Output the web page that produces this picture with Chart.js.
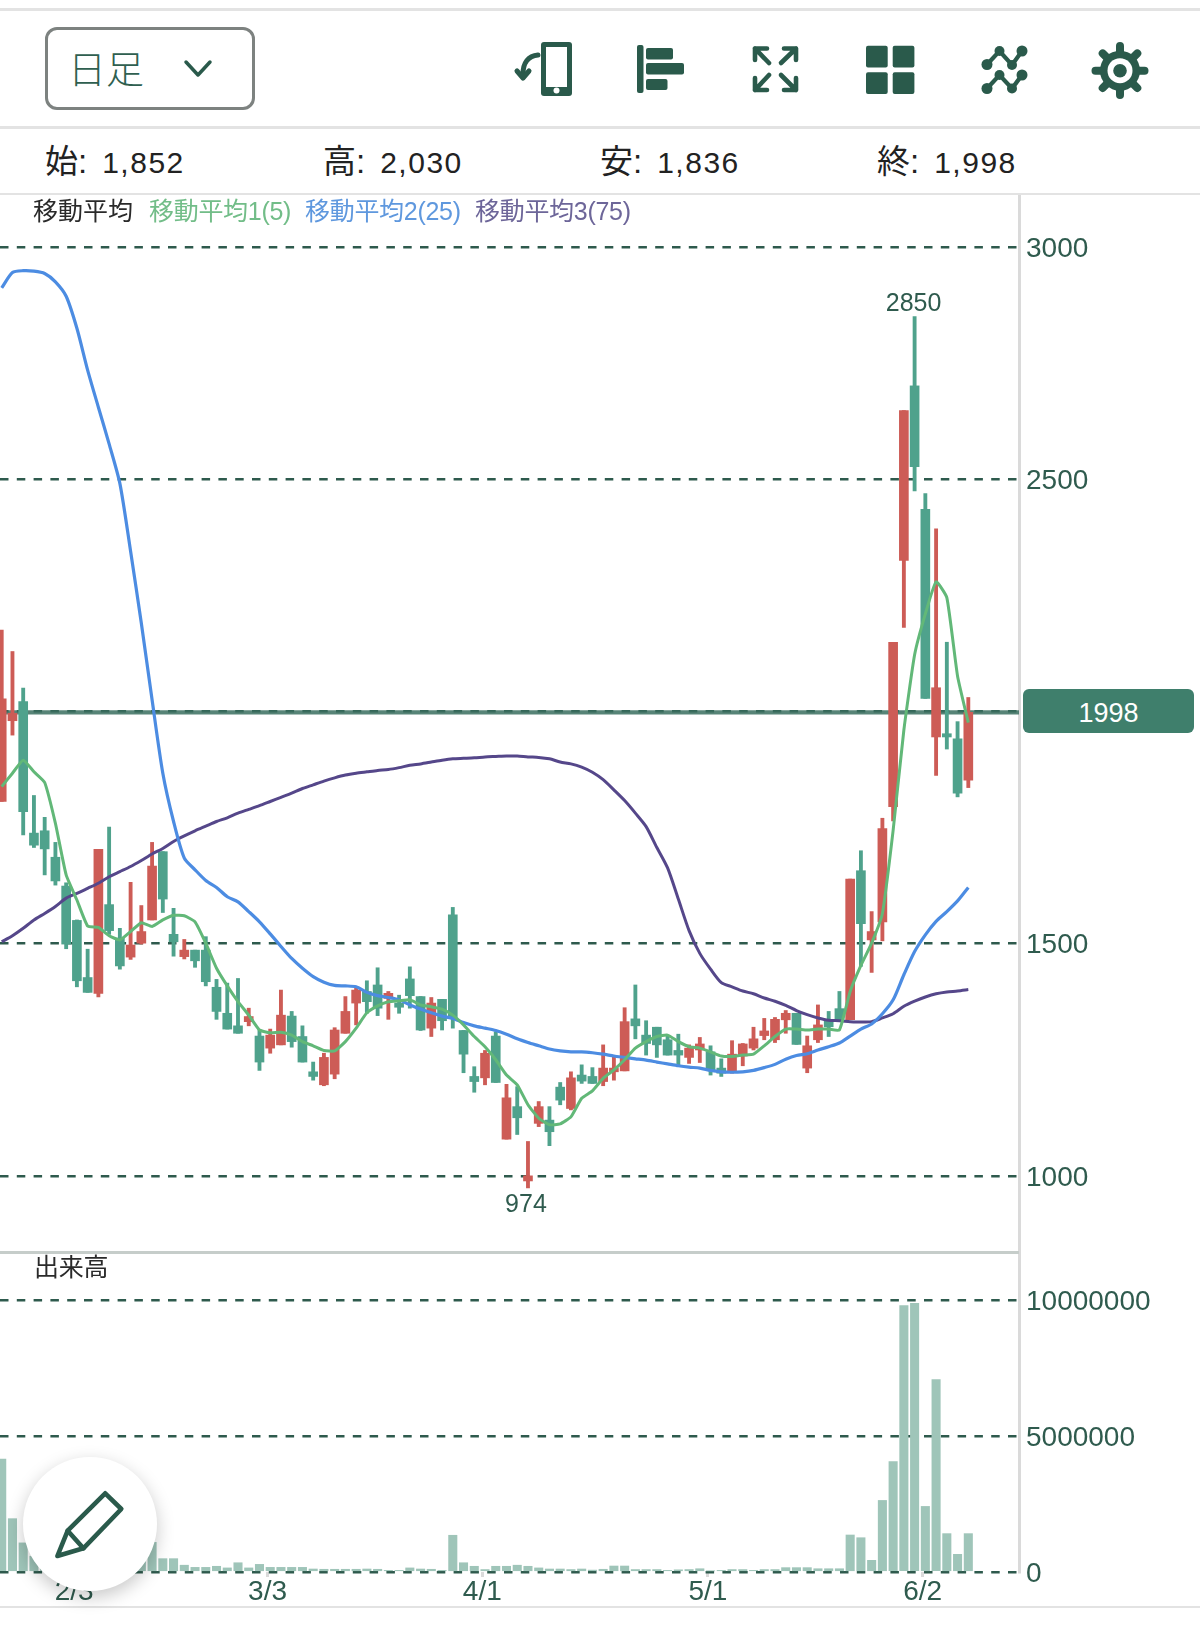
<!DOCTYPE html>
<html lang="ja">
<head>
<meta charset="utf-8">
<title>日足チャート</title>
<script src="https://cdn.jsdelivr.net/npm/chart.js@4"></script>
<style>
  html, body { margin: 0; padding: 0; background: #fff; }
  body { position: relative; width: 1200px; height: 1630px; overflow: hidden; font-family: "Liberation Sans", "Noto Sans CJK JP", sans-serif; color: #2a2a2a; }
  .abs { position: absolute; white-space: nowrap; }
  .line { position: absolute; left: 0; background: #e3e3e3; }
  canvas { position: absolute; left: 0; }
  #btn { left: 45px; top: 27px; width: 204px; height: 77px; border: 3px solid #7d8280; border-radius: 12px; box-sizing: content-box; }
  #btnText { left: 68px; top: 46px; font-size: 38px; line-height: 42px; color: #2f5f50; font-family: "Noto Sans CJK JP", sans-serif; font-weight: 300; }
  .ohlc { top: 141px; font-size: 33px; line-height: 42px; color: #222; }
  .ohlc span { font-size: 30px; letter-spacing: 1.5px; margin-left: 15px; }
  .leg { top: 196px; font-size: 25px; line-height: 30px; letter-spacing: -0.3px; }
  #flag { left: 1023px; top: 689px; width: 171px; height: 44px; line-height: 48px; background: #3f7f6c; border-radius: 6px; color: #fff; font-size: 27px; text-align: center; }
  #fab { left: 23px; top: 1457px; width: 134px; height: 134px; border-radius: 50%; background: #fff; box-shadow: 0 6px 18px rgba(0,0,0,0.22); }
</style>
</head>
<body>
<div class="line" style="top:8px;width:1200px;height:2.5px"></div>
<div class="line" style="top:126px;width:1200px;height:2.5px"></div>
<div class="line" style="top:192.5px;width:1200px;height:2px"></div>
<div class="line" style="top:1606px;width:1200px;height:2px"></div>

<div class="abs" id="btn"></div>
<div class="abs" id="btnText">日足</div>

<svg class="abs" style="left:0;top:0" width="1200" height="120" fill="#2a5a4b" stroke="none">
  <!-- chevron -->
  <path d="M186 62 L198 75 L210 62" fill="none" stroke="#2a5a4b" stroke-width="3.5" stroke-linecap="round" stroke-linejoin="round"/>
  <!-- phone -->
  <rect x="541" y="42" width="31" height="54" rx="3"/>
  <rect x="546" y="47" width="21" height="40" fill="#fff"/>
  <circle cx="556.5" cy="90.5" r="3" fill="#fff"/>
  <path d="M538 55 C528 56 523 63 523 74" fill="none" stroke="#2a5a4b" stroke-width="5" stroke-linecap="round"/>
  <path d="M517 71 L523 78 L529 71" fill="none" stroke="#2a5a4b" stroke-width="5" stroke-linecap="round" stroke-linejoin="round"/>
  <!-- bars -->
  <rect x="637" y="45" width="6.5" height="48" rx="2"/>
  <rect x="646" y="48" width="27" height="11.5" rx="2"/>
  <rect x="646" y="63" width="38" height="11.5" rx="2"/>
  <rect x="646" y="79" width="21.5" height="11" rx="2"/>
  <!-- expand -->
  <g fill="none" stroke="#2a5a4b" stroke-width="4.6" stroke-linecap="round" stroke-linejoin="round">
    <path d="M769 63 L755 48.5 M755 60 L755 48.5 L767 48.5"/>
    <path d="M781 63 L796 48.5 M796 60 L796 48.5 L784 48.5"/>
    <path d="M769 75 L755 90 M755 78 L755 90 L767 90"/>
    <path d="M781 75 L796 90 M796 78 L796 90 L784 90"/>
  </g>
  <!-- grid -->
  <rect x="866" y="45.7" width="21.7" height="21.7" rx="2"/>
  <rect x="892.7" y="45.7" width="21.7" height="21.7" rx="2"/>
  <rect x="866" y="72.3" width="21.7" height="21.7" rx="2"/>
  <rect x="892.7" y="72.3" width="21.7" height="21.7" rx="2"/>
  <!-- network -->
  <g fill="none" stroke="#2a5a4b" stroke-width="4.2">
    <path d="M987 64.5 L999.5 51 L1012 65 L1022 51"/>
    <path d="M987 88.5 L999.5 75 L1012 88.5 L1022 75"/>
  </g>
  <circle cx="987" cy="64.5" r="5.5"/><circle cx="999.5" cy="51" r="5"/><circle cx="1012" cy="65" r="5"/><circle cx="1022" cy="51" r="5.5"/>
  <circle cx="987" cy="88.5" r="5.5"/><circle cx="999.5" cy="75" r="5"/><circle cx="1012" cy="88.5" r="5"/><circle cx="1022" cy="75" r="5.5"/>
  <!-- gear -->
  <g stroke="#2a5a4b" stroke-width="8" stroke-linecap="round">
    <path d="M1120 46 V95 M1095.5 70.7 H1144.5 M1102.7 53.4 L1137.3 88 M1137.3 53.4 L1102.7 88"/>
  </g>
  <circle cx="1120" cy="70.7" r="20"/>
  <circle cx="1120" cy="70.7" r="12.5" fill="#fff"/>
  <circle cx="1120" cy="70.7" r="6.8"/>
</svg>

<div class="abs ohlc" style="left:45px">始:<span>1,852</span></div>
<div class="abs ohlc" style="left:323px">高:<span>2,030</span></div>
<div class="abs ohlc" style="left:600px">安:<span>1,836</span></div>
<div class="abs ohlc" style="left:877px">終:<span>1,998</span></div>

<canvas id="graficoPreco" width="1200" height="1057" style="top:195px"></canvas>
<canvas id="graficoVolume" width="1200" height="355" style="top:1252px"></canvas>

<div class="line" style="top:1251px;width:1019px;height:3px;background:#c6cdca"></div>

<div class="abs leg" style="left:33px;color:#2a2a2a;letter-spacing:0">移動平均</div>
<div class="abs leg" style="left:149px;color:#72bd88">移動平均1(5)</div>
<div class="abs leg" style="left:305px;color:#5f98de">移動平均2(25)</div>
<div class="abs leg" style="left:475px;color:#6d6699">移動平均3(75)</div>
<div class="abs leg" style="left:34px;top:1252px;color:#2a2a2a">出来高</div>

<div class="abs" id="flag">1998</div>

<div class="abs" id="fab"></div>
<svg class="abs" style="left:0;top:1480px" width="180" height="90" fill="none" stroke="#2a5a4b" stroke-width="4.6" stroke-linejoin="round" stroke-linecap="round">
  <path d="M57.4 76 L67.7 50.7 L105.2 13.3 L121.3 29 L83.4 68.3 Z"/>
  <path d="M67.7 50.7 L83.4 68.3"/>
</svg>

<script>
// valores, um por pregao
const opens = [
  1806,1980,2021,1738,1743,1686,1624,1550,1427,1393,
  1584,1512,1471,1501,1551,1698,1520,1472,1486,1486,
  1406,1350,1323,1332,1301,1275,1282,1344,1300,1224,
  1196,1219,1307,1372,1397,1411,1382,1372,1424,1386,
  1318,1380,1562,1313,1214,1211,1301,1079,1149,989,
  1113,1120,1191,1145,1217,1214,1203,1224,1226,1338,
  1303,1320,1293,1270,1255,1271,1267,1232,1224,1258,
  1275,1302,1293,1336,1350,1232,1293,1336,1360,1336,
  1657,1508,1547,1795,2325,2701,2435,1945,1952,1941,
  1852
];
const closes = [
  2027,1996,1784,1712,1704,1635,1499,1420,1395,1703,
  1528,1452,1497,1526,1667,1596,1504,1486,1463,1418,
  1354,1316,1307,1343,1245,1303,1346,1289,1245,1214,
  1255,1314,1354,1400,1375,1361,1393,1363,1388,1314,
  1372,1334,1339,1262,1203,1264,1201,1168,1125,1000,
  1149,1095,1163,1211,1204,1199,1232,1232,1332,1323,
  1285,1282,1260,1260,1275,1284,1228,1221,1262,1284,
  1295,1312,1337,1350,1283,1280,1325,1321,1336,1639,
  1543,1526,1748,2149,2648,2527,2028,2051,1945,1824,
  1998
];
const highs = [
  2175,2129,2050,1819,1772,1718,1631,1551,1488,1703,
  1751,1533,1632,1582,1718,1698,1576,1509,1486,1515,
  1423,1415,1425,1361,1315,1316,1400,1354,1323,1245,
  1264,1319,1386,1407,1420,1448,1397,1389,1450,1386,
  1384,1380,1578,1313,1235,1270,1310,1197,1192,1074,
  1160,1149,1201,1224,1239,1233,1282,1257,1362,1411,
  1334,1320,1303,1305,1282,1298,1280,1252,1291,1285,
  1320,1339,1341,1356,1350,1301,1368,1354,1397,1639,
  1700,1569,1770,2149,2648,2850,2469,2393,2149,1978,
  2030
];
const lows = [
  1806,1949,1734,1707,1648,1626,1489,1407,1395,1385,
  1520,1445,1466,1499,1551,1567,1473,1467,1449,1409,
  1337,1316,1307,1323,1227,1264,1282,1277,1245,1206,
  1194,1209,1307,1325,1350,1345,1337,1350,1361,1313,
  1300,1314,1318,1222,1180,1196,1201,1079,1089,974,
  1106,1065,1153,1142,1199,1199,1194,1206,1226,1295,
  1260,1255,1260,1239,1242,1244,1217,1214,1221,1237,
  1271,1293,1287,1307,1283,1222,1287,1300,1336,1336,
  1451,1438,1506,1764,2181,2475,2028,1862,1919,1816,
  1836
];
const ma5 = [
  1838,1867,1895,1870,1847,1759,1648,1594,1538,1535,
  1517,1508,1526,1545,1537,1551,1561,1560,1547,1501,
  1447,1409,1375,1346,1314,1308,1309,1303,1289,1280,
  1270,1269,1289,1318,1351,1366,1375,1377,1379,1368,
  1364,1359,1346,1325,1300,1278,1250,1217,1196,1153,
  1124,1110,1112,1127,1167,1183,1210,1228,1250,1275,
  1289,1300,1303,1289,1278,1275,1267,1258,1257,1260,
  1262,1280,1300,1316,1316,1314,1316,1316,1314,1397,
  1453,1501,1565,1744,1960,2122,2210,2279,2245,2076,
  1976
];
const ma25 = [
  2912,2945,2949,2948,2943,2925,2894,2825,2735,2655,
  2576,2491,2345,2190,2025,1867,1763,1684,1659,1636,
  1621,1601,1590,1569,1547,1521,1494,1468,1447,1429,
  1417,1410,1409,1407,1395,1388,1384,1379,1368,1359,
  1351,1344,1339,1330,1323,1318,1313,1305,1295,1287,
  1280,1273,1269,1267,1267,1265,1262,1258,1255,1252,
  1249,1245,1241,1237,1234,1232,1227,1224,1223,1224,
  1227,1233,1240,1251,1259,1263,1271,1278,1286,1301,
  1316,1327,1349,1379,1433,1483,1519,1548,1569,1592,
  1621
];
const ma75 = [
  1504,1517,1533,1551,1565,1580,1598,1608,1619,1630,
  1644,1655,1666,1679,1693,1705,1720,1732,1743,1753,
  1763,1771,1781,1789,1797,1806,1815,1824,1834,1842,
  1850,1857,1863,1867,1870,1873,1875,1879,1884,1887,
  1891,1895,1898,1899,1900,1902,1903,1904,1904,1902,
  1901,1898,1891,1887,1880,1869,1853,1831,1808,1781,
  1752,1707,1663,1596,1528,1479,1445,1416,1407,1398,
  1392,1383,1376,1367,1356,1347,1340,1335,1334,1332,
  1331,1332,1340,1349,1365,1376,1385,1392,1396,1398,
  1401
];
const volumes = [
  4150000,1960000,1070000,580000,620000,550000,500000,450000,400000,380000,
  400000,500000,700000,900000,1090000,490000,490000,250000,170000,170000,
  210000,150000,340000,150000,280000,170000,170000,170000,170000,110000,
  100000,100000,100000,100000,110000,100000,60000,60000,150000,110000,
  100000,60000,1350000,340000,210000,90000,210000,210000,250000,210000,
  150000,110000,110000,90000,110000,70000,100000,220000,220000,90000,
  90000,90000,60000,80000,90000,120000,40000,60000,90000,90000,
  60000,90000,90000,160000,160000,160000,120000,120000,120000,1360000,
  1260000,430000,2630000,4060000,9790000,9870000,2410000,7070000,1410000,650000,
  1410000
];

// as datas ficam um pouco antes do centro do candle
const tickIndex = [6.75, 24.75, 44.75, 65.75, 85.75];
const tickDates = ["2/3", "3/3", "4/1", "5/1", "6/2"];
const priceTicks = [1000, 1500, 2000, 2500, 3000];
const volumeTicks = [0, 5000000, 10000000];

const VERDE = "#4fa28c";
const VERMELHO = "#cd5c56";
const TEXTO = "#2f5b4e";
const GRADE = "#2e5a4d";
const FONTE = '"Liberation Sans", "Noto Sans CJK JP", sans-serif';
const xMin = -0.16;
const xMax = 94.72;

const corCandle = opens.map((o, i) => (closes[i] >= o ? VERMELHO : VERDE));

// escala y comum aos dois paineis
function eixoY(min, max, valores, rotulo) {
  return {
    position: "right",
    min: min,
    max: max,
    afterFit(axis) {
      axis.width = 181;
      axis.paddingTop = 0;
      axis.paddingBottom = 0;
    },
    afterBuildTicks(axis) { axis.ticks = valores.map(v => ({ value: v })); },
    border: { color: "#dadada", width: 3, dash: [8.5, 8.3] },
    grid: { color: GRADE, lineWidth: 2.5, drawTicks: false },
    ticks: {
      padding: 7,
      labelOffset: 2,
      color: TEXTO,
      font: { family: FONTE, size: 28 },
      callback: rotulo
    }
  };
}

// rotulos de maxima e minima
const rotulosExtremos = {
  id: "rotulosExtremos",
  afterDatasetsDraw(chart) {
    const { ctx, scales } = chart;
    const topo = Math.max(...highs);
    const fundo = Math.min(...lows);
    ctx.save();
    ctx.fillStyle = TEXTO;
    ctx.font = "25px " + FONTE;
    ctx.textAlign = "center";
    ctx.textBaseline = "middle";
    ctx.fillText(topo, scales.x.getPixelForValue(highs.indexOf(topo)) - 1, scales.y.getPixelForValue(topo) - 12.5);
    ctx.fillText(fundo, scales.x.getPixelForValue(lows.indexOf(fundo)) - 2, scales.y.getPixelForValue(fundo) + 17);
    ctx.restore();
  }
};

new Chart(document.getElementById("graficoPreco").getContext("2d"), {
  type: "bar",
  data: {
    datasets: [
      { type: "line", label: "移動平均1(5)", data: ma5.map((v, i) => ({ x: i, y: v })), borderColor: "#62b878", borderWidth: 3, pointRadius: 0, tension: 0.15, order: 1 },
      { type: "line", label: "移動平均2(25)", data: ma25.map((v, i) => ({ x: i, y: v })), borderColor: "#4c8ce2", borderWidth: 3.2, pointRadius: 0, tension: 0.25, order: 2 },
      { type: "line", label: "移動平均3(75)", data: ma75.map((v, i) => ({ x: i, y: v })), borderColor: "#55478a", borderWidth: 3, pointRadius: 0, tension: 0.25, order: 3 },
      { label: "body", data: opens.map((o, i) => ({ x: i, y: [o, closes[i]] })), backgroundColor: corCandle, barThickness: 9, grouped: false, order: 4 },
      { label: "wick", data: lows.map((l, i) => ({ x: i, y: [l, highs[i]] })), backgroundColor: corCandle, barThickness: 3.2, grouped: false, order: 5 },
      { type: "line", label: "last", data: [{ x: xMin, y: closes[closes.length - 1] }, { x: xMax, y: closes[closes.length - 1] }], borderColor: "rgba(58,110,95,0.85)", borderWidth: 4.4, pointRadius: 0, order: 6 }
    ]
  },
  options: {
    responsive: false,
    animation: false,
    layout: { padding: 0 },
    plugins: { legend: { display: false }, tooltip: { enabled: false } },
    scales: {
      x: { type: "linear", display: false, min: xMin, max: xMax, offset: false, grid: { offset: false } },
      y: eixoY(836, 3112, priceTicks, v => (v === 2000 ? "" : v))
    }
  },
  plugins: [rotulosExtremos]
});

new Chart(document.getElementById("graficoVolume").getContext("2d"), {
  type: "bar",
  data: {
    datasets: [
      { label: "出来高", data: volumes.map((v, i) => ({ x: i, y: v })), backgroundColor: "#9fc5b9", barThickness: 8.4, grouped: false }
    ]
  },
  options: {
    responsive: false,
    animation: false,
    layout: { padding: 0 },
    plugins: { legend: { display: false }, tooltip: { enabled: false } },
    scales: {
      x: {
        type: "linear",
        min: xMin,
        max: xMax,
        offset: false,
        afterFit(axis) {
          axis.height = 35;
          axis.paddingLeft = 0;
          axis.paddingRight = 0;
        },
        afterBuildTicks(axis) { axis.ticks = tickIndex.map(v => ({ value: v })); },
        border: { display: false },
        grid: { offset: false, drawOnChartArea: false, color: "#dadada", lineWidth: 3, tickLength: 5 },
        ticks: {
          color: TEXTO,
          padding: -2,
          autoSkip: false,
          maxRotation: 0,
          font: { family: FONTE, size: 28 },
          callback: v => tickDates[tickIndex.indexOf(v)]
        }
      },
      y: eixoY(0, 11760000, volumeTicks, v => v)
    }
  }
});
</script>
</body>
</html>
